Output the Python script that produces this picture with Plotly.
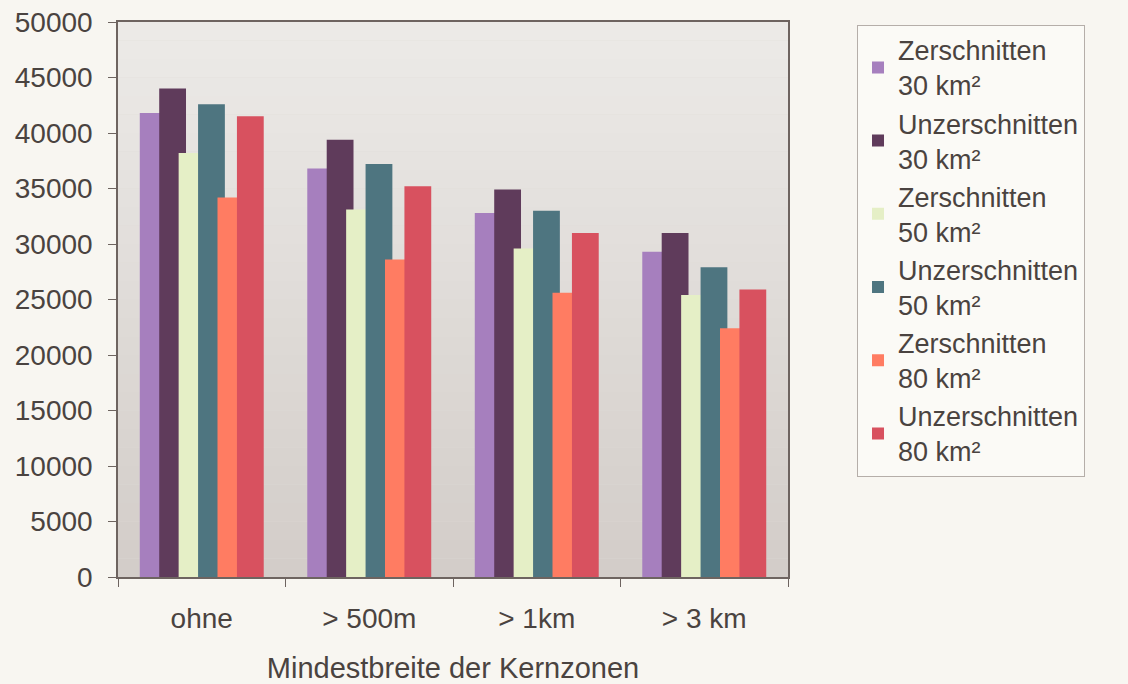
import plotly.graph_objects as go

categories = ["ohne", "> 500m", "> 1km", "> 3 km"]
series_names = [
    "Zerschnitten<br>30 km²",
    "Unzerschnitten<br>30 km²",
    "Zerschnitten<br>50 km²",
    "Unzerschnitten<br>50 km²",
    "Zerschnitten<br>80 km²",
    "Unzerschnitten<br>80 km²",
]
zer_30 = [41800, 36800, 32800, 29300]
unz_30 = [44000, 39400, 34900, 31000]
zer_50 = [38200, 33100, 29600, 25400]
unz_50 = [42600, 37200, 33000, 27900]
zer_80 = [34200, 28600, 25600, 22400]
unz_80 = [41500, 35200, 31000, 25900]
series_values = [zer_30, unz_30, zer_50, unz_50, zer_80, unz_80]
colors = ["#a67fbe", "#5f3b5b", "#e5efc6", "#4e7580", "#ff7c62", "#d8515f"]
offsets = [-0.37, -0.254, -0.138, -0.022, 0.094, 0.21]
bar_width = 0.16

FONT = "Liberation Sans, Arial, sans-serif"
TXT = "#4a4340"

fig = go.Figure()
for name, vals, col, off in zip(series_names, series_values, colors, offsets):
    fig.add_trace(go.Bar(
        x=categories, y=vals, name=name,
        marker=dict(color=col, line=dict(width=0)),
        offset=off, width=bar_width,
    ))

# subtle vertical gradient of the plot area
n = 30
top = (236, 234, 231)
bot = (211, 205, 201)
shapes = []
for i in range(n):
    t = i / (n - 1)
    c = tuple(int(round(top[k] + (bot[k] - top[k]) * t)) for k in range(3))
    shapes.append(dict(
        type="rect", xref="x domain", yref="y domain",
        x0=0, x1=1, y0=1 - (i + 1) / n, y1=1 - i / n,
        fillcolor="rgb(%d,%d,%d)" % c, line=dict(width=0), layer="below",
    ))

fig.update_layout(
    width=1128, height=684,
    margin=dict(l=118, r=340, t=22, b=107),
    barmode="overlay",
    paper_bgcolor="#f8f6f1",
    plot_bgcolor="#dedad6",
    shapes=shapes,
    font=dict(family=FONT, color=TXT, size=28),
    showlegend=True,
    legend=dict(
        x=1.103, xanchor="left", y=0.995, yanchor="top",
        bgcolor="#fbfaf6", bordercolor="#b5aea9", borderwidth=1,
        font=dict(family=FONT, size=27, color=TXT),
        itemwidth=30, tracegroupgap=0,
    ),
    xaxis=dict(
        showline=True, linecolor="#6e6460", linewidth=1.5, mirror=True,
        ticks="outside", tickson="boundaries", ticklen=8, tickcolor="#6e6460",
        tickfont=dict(size=28, color=TXT), ticklabelstandoff=16,
        title=dict(text="Mindestbreite der Kernzonen", font=dict(size=29, color=TXT), standoff=24),
        showgrid=False, automargin=False,
    ),
    yaxis=dict(
        range=[0, 50000], dtick=5000, tickformat="d",
        showline=True, linecolor="#6e6460", linewidth=1.5, mirror=True,
        ticks="outside", ticklen=8, tickcolor="#6e6460",
        tickfont=dict(size=28, color=TXT), ticklabelstandoff=10,
        showgrid=False, zeroline=False, automargin=False,
    ),
)

fig.write_html("out.html")
